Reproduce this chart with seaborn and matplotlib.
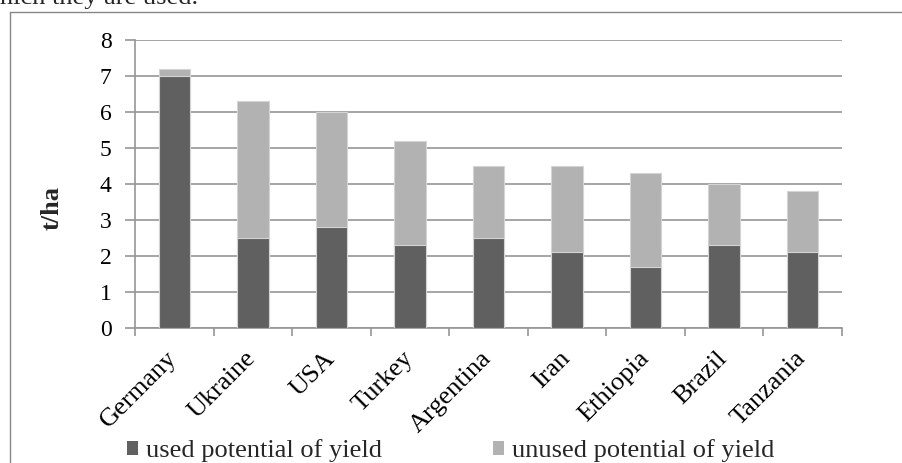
import matplotlib
matplotlib.use("Agg")
import matplotlib.pyplot as plt
import matplotlib.transforms as mtransforms
import seaborn as sns
import pandas as pd
from matplotlib.lines import Line2D
from matplotlib.patches import Patch

countries = ["Germany", "Ukraine", "USA", "Turkey", "Argentina",
             "Iran", "Ethiopia", "Brazil", "Tanzania"]
used = [7.0, 2.5, 2.8, 2.3, 2.5, 2.1, 1.7, 2.3, 2.1]
total = [7.2, 6.3, 6.0, 5.2, 4.5, 4.5, 4.3, 4.0, 3.8]
yticks = [0, 1, 2, 3, 4, 5, 6, 7, 8]
legend_labels = ["used potential of yield", "unused potential of yield"]

DARK = "#606060"
LIGHT = "#b2b2b2"
GRID = "#969696"

sns.set_theme(style="white")
plt.rcParams["font.family"] = ["Liberation Serif", "DejaVu Serif"]

df = pd.DataFrame({"country": countries, "used": used, "total": total})

fig = plt.figure(figsize=(9.02, 4.63), dpi=100)
ax = fig.add_axes([135 / 902, 1 - 328 / 463, (842 - 135) / 902, (328 - 40) / 463])

sns.barplot(data=df, x="country", y="total", color=LIGHT, saturation=1,
            width=0.4, edgecolor="#d4d4d4", linewidth=0.8, ax=ax, zorder=3)
sns.barplot(data=df, x="country", y="used", color=DARK, saturation=1,
            width=0.4, edgecolor="#d4d4d4", linewidth=0.8, ax=ax, zorder=3)

ax.set_xlim(-0.5, len(countries) - 0.5)
ax.set_ylim(0, 8)
ax.set_yticks(yticks)
ax.set_yticklabels([str(v) for v in yticks], fontsize=17)
ax.yaxis.grid(True, color=GRID, linewidth=1.2, zorder=0)
ax.set_axisbelow(True)
ax.set_xlabel("")
ax.set_ylabel("")

for s in ["top", "right"]:
    ax.spines[s].set_visible(False)
for s in ["left", "bottom"]:
    ax.spines[s].set_color(GRID)
    ax.spines[s].set_linewidth(1.2)

ax.tick_params(axis="y", direction="out", length=7, width=1.2, color=GRID,
               pad=10, left=True, labelcolor="black")
# category labels at bar centres, tick marks at boundaries
ax.set_xticks(range(len(countries)))
ax.set_xticklabels(countries, rotation=45, ha="right", rotation_mode="anchor",
                   fontsize=19)
ax.tick_params(axis="x", which="major", length=0, pad=14, labelcolor="black")
ax.set_xticks([i - 0.5 for i in range(len(countries) + 1)], minor=True)
ax.tick_params(axis="x", which="minor", direction="out", length=6, width=1.2,
               color=GRID, bottom=True)
shift = mtransforms.ScaledTranslation(-8 / 100, 0, fig.dpi_scale_trans)
for lab in ax.get_xticklabels():
    lab.set_transform(lab.get_transform() + shift)

fig.text(52 / 902, 1 - 208 / 463, "t/ha", rotation=90, fontsize=19,
         fontweight="bold", ha="center", va="center")

# surrounding frame of the chart object
fig.add_artist(Line2D([10 / 902, 10 / 902], [0, 1 - 12 / 463], color="#868686",
                      linewidth=1, transform=fig.transFigure))
fig.add_artist(Line2D([10 / 902, 1], [1 - 12 / 463, 1 - 12 / 463], color="#868686",
                      linewidth=1, transform=fig.transFigure))

# cut-off line of surrounding text
fig.text(0, 1 - 4 / 463, "hich they are used.", fontsize=19, ha="left",
         va="baseline")

handles = [Patch(facecolor=DARK, edgecolor="none"),
           Patch(facecolor=LIGHT, edgecolor="none")]
fig.legend(handles, legend_labels, loc="center left",
           bbox_to_anchor=(127 / 902, 1 - 451 / 463), ncol=2, frameon=False,
           fontsize=19, handlelength=0.42, handleheight=0.42,
           handletextpad=0.3, columnspacing=4.2, borderpad=0, borderaxespad=0)

fig.savefig("out.png", dpi=100)
